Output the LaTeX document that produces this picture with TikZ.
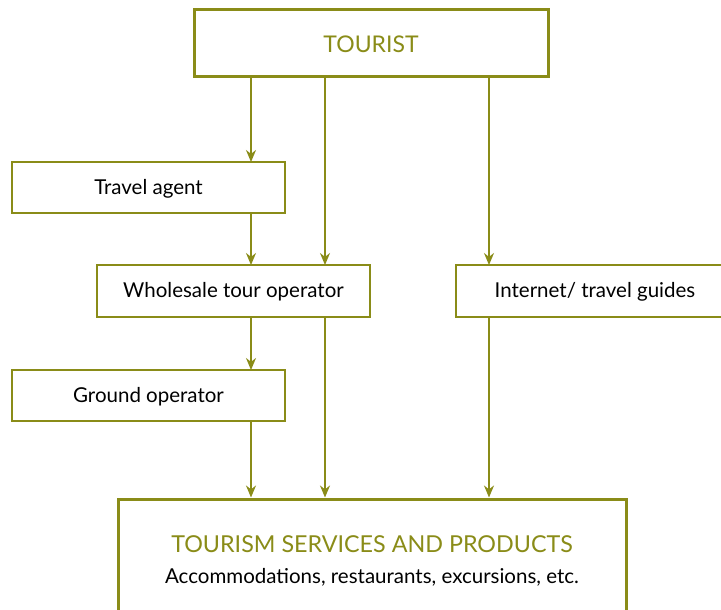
\documentclass[tikz,border=0pt]{standalone}
\usepackage{fontspec}
\setmainfont{Lato}
\usetikzlibrary{arrows.meta}
\definecolor{olive}{RGB}{138,140,24}
\tikzset{
  box/.style={draw=olive, line width=1.5pt, fill=white, inner sep=0pt},
  bigbox/.style={draw=olive, line width=3pt, fill=white, inner sep=0pt},
  arr/.style={draw=olive, line width=1.4pt, -{Stealth[length=12pt,width=10pt]}},
  lbl/.style={font=\fontsize{20.5}{24}\selectfont, text=black},
}
\begin{document}
\begin{tikzpicture}[x=1pt,y=-1pt]
\useasboundingbox (0,0) rectangle (721,610);
% boxes
\draw[bigbox] (194,10) rectangle (548,77);
\node[text=olive, font=\fontsize{23}{27}\selectfont] (tourist) at (371,44) {TOURIST};
\draw[box] (12,162) rectangle (285,213);
\node[lbl] (agent) at (148.5,188.5) {Travel agent};
\draw[box] (97,265) rectangle (370,317);
\node[lbl] (whole) at (233.5,292) {Wholesale tour operator};
\draw[box] (456,265) rectangle (724,317);
\node[lbl] (inet) at (595,292) {Internet/ travel guides};
\draw[box] (12,370) rectangle (285,421);
\node[lbl] (ground) at (148.5,397) {Ground operator};
\draw[bigbox] (118,499) rectangle (626,616);
\node[text=olive, font=\fontsize{23.3}{27}\selectfont] (tsp) at (372,544) {TOURISM SERVICES AND PRODUCTS};
\node[lbl] (acc) at (372,577) {Accommodations, restaurants, excursions, etc.};
% coordinates
\coordinate (t1) at (251,78.5);
\coordinate (t2) at (325,78.5);
\coordinate (t3) at (489,78.5);
\coordinate (a1) at (251,162);
\coordinate (a2) at (251,213);
\coordinate (w1) at (251,265);
\coordinate (w2) at (325,265);
\coordinate (w3) at (251,317);
\coordinate (w4) at (325,317);
\coordinate (i1) at (489,265);
\coordinate (i2) at (489,317);
\coordinate (g1) at (251,370);
\coordinate (g2) at (251,421);
\coordinate (b1) at (251,497.5);
\coordinate (b2) at (325,497.5);
\coordinate (b3) at (489,497.5);
% arrows
\draw[arr] (t1) -- (a1);
\draw[arr] (t2) -- (w2);
\draw[arr] (t3) -- (i1);
\draw[arr] (a2) -- (w1);
\draw[arr] (w3) -- (g1);
\draw[arr] (g2) -- (b1);
\draw[arr] (w4) -- (b2);
\draw[arr] (i2) -- (b3);
\end{tikzpicture}
\end{document}
